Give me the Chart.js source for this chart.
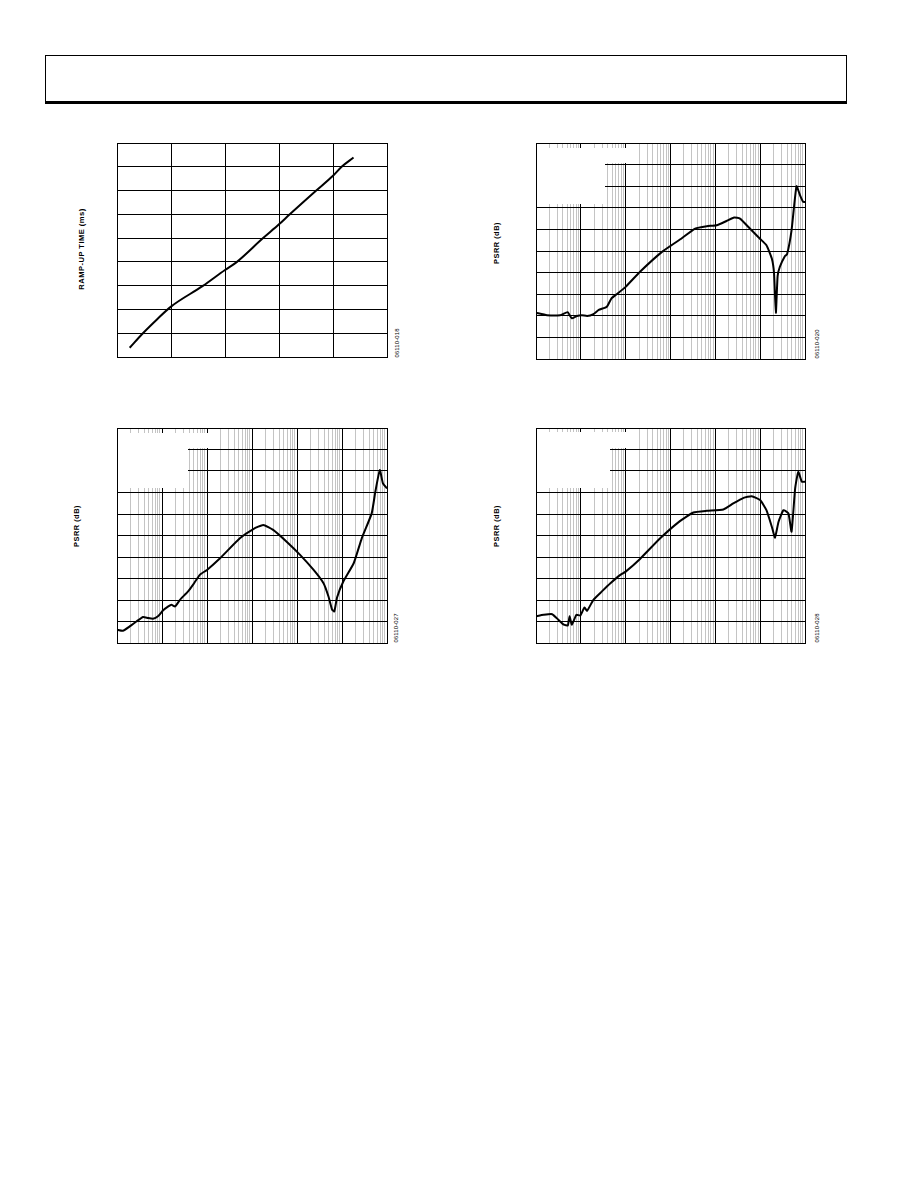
<!DOCTYPE html>
<html>
<head>
<meta charset="utf-8">
<script src="https://cdn.jsdelivr.net/npm/chart.js@4/dist/chart.umd.min.js"></script>
<style>
  html, body { margin: 0; padding: 0; background: #fff; }
  body { width: 918px; height: 1188px; position: relative; overflow: hidden; font-family: "Liberation Sans", Arial, sans-serif; }
  .hdr { position: absolute; left: 45px; top: 55px; width: 800px; height: 45px; border: 1px solid #000; border-bottom: 3px solid #000; }
  .box { position: absolute; }
  .vt { position: absolute; white-space: nowrap; transform: translate(-50%, -50%) rotate(-90deg); color: #000; line-height: 1; }
  .ytitle { font-size: 7.6px; font-weight: bold; letter-spacing: 0.45px; }
  .ptitle { font-size: 7.4px; font-weight: bold; letter-spacing: 0.5px; }
  .code { font-size: 6px; letter-spacing: 0.1px; }
</style>
</head>
<body>
<div class="hdr"></div>

<div class="box" id="b1"><canvas id="c1"></canvas></div>
<div class="box" id="b2"><canvas id="c2"></canvas></div>
<div class="box" id="b3"><canvas id="c3"></canvas></div>
<div class="box" id="b4"><canvas id="c4"></canvas></div>

<div class="vt ytitle" style="left:82px; top:249px;">RAMP-UP TIME (ms)</div>
<div class="vt ptitle" style="left:497px; top:243px;">PSRR (dB)</div>
<div class="vt ptitle" style="left:77px; top:526px;">PSRR (dB)</div>
<div class="vt ptitle" style="left:497px; top:526px;">PSRR (dB)</div>

<div class="vt code" style="left:397px; top:343px;">06110-018</div>
<div class="vt code" style="left:817px; top:344px;">06110-020</div>
<div class="vt code" style="left:396px; top:628px;">06110-027</div>
<div class="vt code" style="left:817px; top:628px;">06110-028</div>

<script>
// ---------- DATA ----------
// Chart 1: ramp-up time (grid units)
const rampX = [0.235, 0.48, 0.73, 1.0, 1.59, 2.0, 2.21, 2.70, 3.0, 3.20, 3.69, 4.0, 4.17, 4.38];
const rampY = [0.39, 1.0, 1.56, 2.12, 2.99, 3.66, 3.98, 4.99, 5.58, 6.0, 7.0, 7.62, 8.02, 8.39];

// Chart 2: PSRR vs frequency (Hz)
const freqA = [10, 17.6, 34.7, 50.7, 63.1, 81.3, 105, 138, 191, 251, 380, 479, 631, 1000, 2090, 6460,
  16200, 35500, 64600, 107000, 178000, 263000, 355000, 589000, 977000, 1380000, 1820000, 2040000,
  2240000, 2450000, 2750000, 3550000, 3980000, 5010000, 6460000, 7760000, 9120000, 10000000];
const psrrA = [-78.6, -79.7, -79.7, -78.3, -81.2, -80.1, -79.7, -80.1, -79.2, -77.3, -75.8, -72.0, -70.0,
  -66.6, -59.6, -50.4, -44.7, -39.6, -38.5, -38.1, -36.1, -34.5, -35.0, -39.6, -44.2, -47.3, -53.5,
  -60.4, -78.6, -61.6, -57.3, -52.4, -51.5, -40.4, -20.0, -24.2, -27.3, -27.3];

// Chart 3
const freqB = [10, 13.5, 19.1, 26.9, 38.0, 49.0, 63.1, 81.3, 105, 138, 162, 195, 251, 380, 501, 692, 1000,
  1950, 5370, 10700, 17800, 29500, 58900, 117000, 234000, 389000, 501000, 603000, 676000, 776000,
  1070000, 1820000, 2750000, 4570000, 5500000, 6920000, 8130000, 10000000];
const psrrB = [-93.8, -94.3, -92.3, -90.0, -87.9, -88.4, -88.7, -87.6, -84.9, -83.0, -82.2, -83.0, -79.9,
  -76.0, -72.6, -68.3, -66.0, -60.6, -51.3, -47.0, -45.1, -47.4, -52.9, -59.0, -66.0, -72.2, -78.4,
  -84.5, -85.3, -78.8, -71.4, -62.9, -51.3, -39.7, -29.7, -19.6, -25.8, -28.1];

// Chart 4
const freqC = [10, 14.8, 22.9, 31.6, 41.7, 51.3, 56.2, 63.1, 79.4, 97.7, 120, 138, 191, 295, 457, 759, 1000,
  2090, 5890, 16200, 32400, 64600, 151000, 251000, 427000, 646000, 1000000, 1380000, 1820000, 2140000,
  2570000, 3310000, 4270000, 5010000, 6030000, 7080000, 8510000, 10000000];
const psrrC = [-87.6, -86.9, -86.6, -89.2, -91.5, -91.8, -87.6, -91.5, -86.9, -87.2, -83.5, -85.0, -79.9,
  -76.0, -72.2, -68.3, -66.8, -60.9, -51.3, -43.3, -39.3, -38.5, -37.9, -35.1, -32.5, -31.7, -33.5,
  -38.2, -45.9, -51.0, -43.6, -38.2, -39.7, -48.2, -28.1, -20.4, -25.0, -25.0];

// Axis ranges / ticks
const rampXTicks = [0, 1, 2, 3, 4, 5];
const rampYTicks = [0, 1, 2, 3, 4, 5, 6, 7, 8, 9];
const freqDecades = [10, 100, 1000, 10000, 100000, 1000000, 10000000];
const psrrTicks = [-100, -90, -80, -70, -60, -50, -40, -30, -20, -10, 0];

// ---------- HELPERS ----------
const minorGrid = [];
for (let i = 0; i < freqDecades.length - 1; i++) {
  for (let m = 1; m <= 9; m++) minorGrid.push(freqDecades[i] * m);
}
minorGrid.push(freqDecades[freqDecades.length - 1]);
const isDecade = v => Math.abs(Math.log10(v) - Math.round(Math.log10(v))) < 1e-6;

const maskPlugin = {
  id: 'legendMask',
  beforeDatasetsDraw(chart, args, opts) {
    if (!opts || !opts.rects) return;
    const a = chart.chartArea, ctx = chart.ctx;
    ctx.save();
    ctx.fillStyle = '#ffffff';
    opts.rects.forEach(r => ctx.fillRect(a.left + r[0], a.top + r[1], r[2], r[3]));
    ctx.restore();
  }
};

const PAD = 3;
function place(boxId, canvasId, left, top, w, h) {
  const b = document.getElementById(boxId);
  b.style.left = (left - PAD) + 'px';
  b.style.top = (top - PAD) + 'px';
  const c = document.getElementById(canvasId);
  c.width = w + 2 * PAD; c.height = h + 2 * PAD;
  c.style.width = (w + 2 * PAD) + 'px'; c.style.height = (h + 2 * PAD) + 'px';
  return c;
}

const baseOpts = {
  responsive: false,
  animation: false,
  events: [],
  devicePixelRatio: 1,
  layout: { padding: PAD },
  plugins: { legend: { display: false }, tooltip: { enabled: false } }
};

function yAxis(ticks) {
  return {
    type: 'linear', min: ticks[0], max: ticks[ticks.length - 1],
    afterBuildTicks: s => { s.ticks = ticks.map(v => ({ value: v })); },
    ticks: { display: false },
    grid: { color: '#000', lineWidth: 1, drawTicks: false, tickLength: 0 },
    border: { display: true, color: '#000', width: 1 }
  };
}

// ---------- CHART 1 ----------
new Chart(place('b1', 'c1', 117, 143, 270, 214), {
  type: 'line',
  data: {
    datasets: [{
      data: rampX.map((x, i) => ({ x, y: rampY[i] })),
      borderColor: '#000', borderWidth: 2, pointRadius: 0,
      cubicInterpolationMode: 'monotone', fill: false
    }]
  },
  options: Object.assign({}, baseOpts, {
    scales: {
      x: {
        type: 'linear', min: rampXTicks[0], max: rampXTicks[rampXTicks.length - 1],
        afterBuildTicks: s => { s.ticks = rampXTicks.map(v => ({ value: v })); },
        ticks: { display: false },
        grid: { color: '#000', lineWidth: 1, drawTicks: false, tickLength: 0 },
        border: { display: true, color: '#000', width: 1 }
      },
      y: yAxis(rampYTicks)
    }
  })
});

// ---------- PSRR CHARTS ----------
function psrrChart(boxId, canvasId, left, top, w, h, freq, vals, rects) {
  new Chart(place(boxId, canvasId, left, top, w, h), {
    type: 'line',
    data: {
      datasets: [{
        data: freq.map((f, i) => ({ x: f, y: vals[i] })),
        borderColor: '#000', borderWidth: 2, pointRadius: 0, tension: 0.15, fill: false
      }]
    },
    options: Object.assign({}, baseOpts, {
      plugins: Object.assign({}, baseOpts.plugins, { legendMask: { rects } }),
      scales: {
        x: {
          type: 'logarithmic', min: freqDecades[0], max: freqDecades[freqDecades.length - 1],
          afterBuildTicks: s => { s.ticks = minorGrid.map(v => ({ value: v, major: isDecade(v) })); },
          ticks: { display: false },
          grid: {
            color: ctx => (ctx.tick && isDecade(ctx.tick.value)) ? '#000' : '#c4c4c4',
            lineWidth: 1, drawTicks: false, tickLength: 0
          },
          border: { display: true, color: '#000', width: 1 }
        },
        y: yAxis(psrrTicks)
      }
    }),
    plugins: [maskPlugin]
  });
}

psrrChart('b2', 'c2', 536, 143, 269, 216, freqA, psrrA, [[1, 5, 96, 15], [1, 5, 68, 56]]);
psrrChart('b3', 'c3', 117, 428, 270, 215, freqB, psrrB, [[1, 5, 96, 15], [1, 5, 70, 55]]);
psrrChart('b4', 'c4', 536, 428, 269, 215, freqC, psrrC, [[1, 4, 96, 16], [1, 4, 73, 56]]);
</script>
</body>
</html>
